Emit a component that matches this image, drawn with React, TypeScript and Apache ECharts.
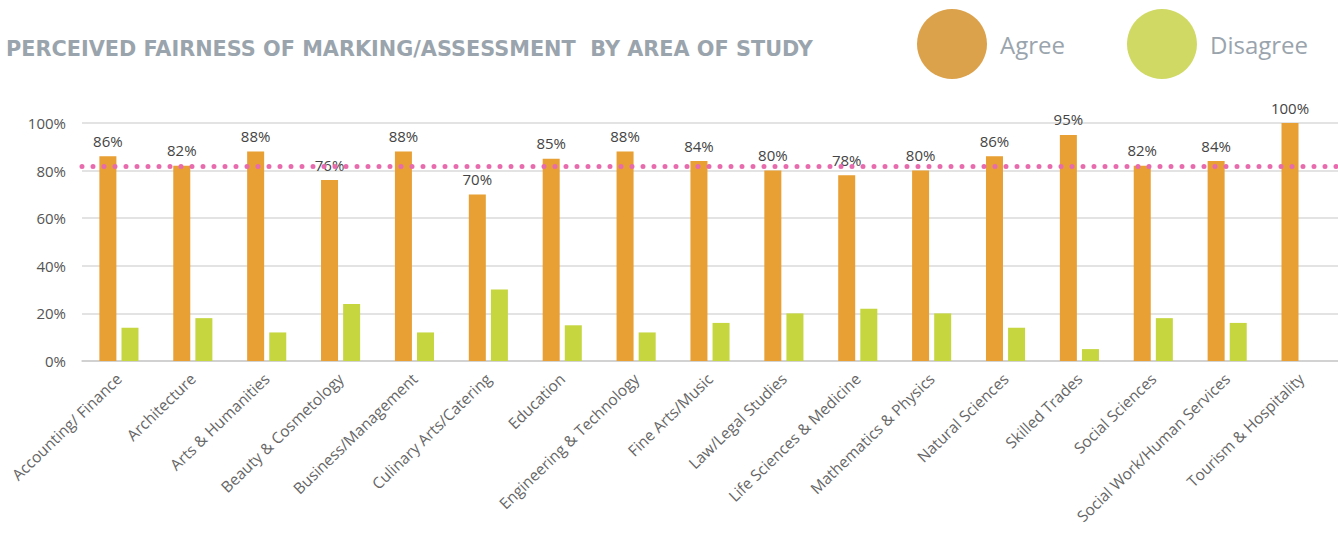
import React, { useEffect, useRef } from "react";
import * as echarts from "echarts";

const categories = [
  "Accounting/ Finance",
  "Architecture",
  "Arts & Humanities",
  "Beauty & Cosmetology",
  "Business/Management",
  "Culinary Arts/Catering",
  "Education",
  "Engineering & Technology",
  "Fine Arts/Music",
  "Law/Legal Studies",
  "Life Sciences & Medicine",
  "Mathematics & Physics",
  "Natural Sciences",
  "Skilled Trades",
  "Social Sciences",
  "Social Work/Human Services",
  "Tourism & Hospitality",
];
const agree = [86, 82, 88, 76, 88, 70, 85, 88, 84, 80, 78, 80, 86, 95, 82, 84, 100];
const disagree = [14, 18, 12, 24, 12, 30, 15, 12, 16, 20, 22, 20, 14, 5, 18, 16, 0];
const averageAgree = 82;
const yTicks = { min: 0, max: 100, interval: 20 };

const FONT = "'Open Sans', 'Noto Sans', sans-serif";
const TITLE_FONT = "'DejaVu Sans', 'Open Sans', sans-serif";

export default function App() {
  const ref = useRef<HTMLDivElement>(null);
  useEffect(() => {
    if (!ref.current) return;
    const chart = echarts.init(ref.current, undefined, { renderer: "svg" });
    chart.setOption({
      animation: false,
      textStyle: { fontFamily: FONT },
      title: {
        text: "PERCEIVED FAIRNESS OF MARKING/ASSESSMENT  BY AREA OF STUDY",
        left: 1,
        top: 33,
        textStyle: { fontFamily: TITLE_FONT, fontWeight: "bold", fontSize: 20.8, color: "#9aa4ad" },
      },
      legend: {
        left: 912,
        top: 4,
        icon: "circle",
        itemWidth: 70,
        itemHeight: 70,
        itemGap: 62,
        textStyle: { fontFamily: FONT, fontSize: 24, color: "#9aa4ad", padding: [0, 0, 0, 8] },
        data: [
          { name: "Agree", itemStyle: { color: "#dba24b" } },
          { name: "Disagree", itemStyle: { color: "#cfd964" } },
        ],
      },
      grid: { left: 82, top: 123, width: 1265, height: 238 },
      xAxis: {
        type: "category",
        data: categories,
        axisTick: { show: false },
        axisLine: { lineStyle: { color: "#cccccc", width: 1.5 } },
        axisLabel: {
          interval: 0,
          rotate: 44,
          margin: 15,
          fontSize: 15.5,
          color: "#666666",
          fontFamily: FONT,
        },
      },
      yAxis: {
        type: "value",
        min: yTicks.min,
        max: yTicks.max,
        interval: yTicks.interval,
        axisLine: { show: false },
        axisTick: { show: false },
        splitLine: { lineStyle: { color: "#e3e3e3", width: 2 } },
        axisLabel: {
          formatter: "{value}%",
          fontSize: 15,
          color: "#555555",
          margin: 16,
          fontFamily: FONT,
        },
      },
      series: [
        {
          name: "Agree",
          type: "bar",
          data: agree,
          barWidth: 17,
          barGap: "30%",
          itemStyle: { color: "#e89f33" },
          label: {
            show: true,
            position: "top",
            distance: 8,
            formatter: "{c}%",
            fontSize: 15,
            color: "#444444",
            fontFamily: FONT,
          },
          markLine: {
            silent: true,
            symbol: "none",
            label: { show: false },
            lineStyle: { color: "#e86bae", width: 5, type: [0, 11], cap: "round" },
            data: [{ yAxis: averageAgree }],
          },
          z: 2,
        },
        {
          name: "Disagree",
          type: "bar",
          data: disagree,
          barWidth: 17,
          itemStyle: { color: "#c5d63f" },
        },
      ],
    });
    return () => chart.dispose();
  }, []);
  return (
    <div
      ref={ref}
      style={{ position: "fixed", left: 0, top: 0, width: 1338, height: 533, background: "#fff" }}
    />
  );
}
